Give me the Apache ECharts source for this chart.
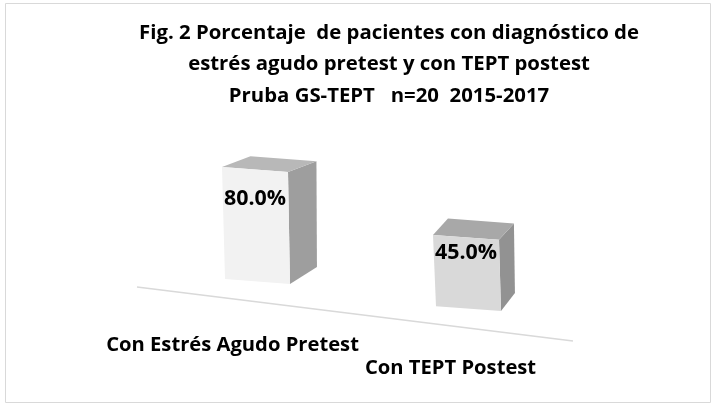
<!DOCTYPE html>
<html lang="es">
<head>
    <meta charset="UTF-8">
    <title>Fig. 2</title>
    <script src="https://cdn.jsdelivr.net/npm/echarts@6.0.0/dist/echarts.min.js"></script>
    <style>
        body { margin: 0; background: #fff; }
        #main { width: 716px; height: 408px; }
    </style>
</head>
<body>
    <div id="main"></div>
    <script type="text/javascript">
        // data
        const categories = ['Con Estrés Agudo Pretest', 'Con TEPT Postest'];
        const values = [80.0, 45.0];
        const labels = ['80.0%', '45.0%'];
        const titleLines = [
            'Fig. 2 Porcentaje  de pacientes con diagnóstico de',
            'estrés agudo pretest y con TEPT postest',
            'Pruba GS-TEPT   n=20  2015-2017'
        ];

        const frontColors = ['#f2f2f2', '#d9d9d9'];
        const topColors = ['#b8b8b8', '#a8a8a8'];
        const sideColors = ['#9e9e9e', '#929292'];
        const font = '"Open Sans", "Noto Sans", sans-serif';

        // pick a font size so a text has about the width of the original
        let ctx = document.createElement('canvas').getContext('2d');
        function fitSize(text, width) {
            ctx.font = 'bold 20px ' + font;
            return 20 * width / ctx.measureText(text).width;
        }
        const titleSize = fitSize(titleLines[1], 402);
        const catSize = fitSize(categories[0], 253);
        const valSize = fitSize(labels[0], 62);

        let myChart = echarts.init(document.getElementById('main'));

        // fake 3d box: front face from the axis scale, top and side pushed back
        function renderBox(params, api) {
            let i = api.value(0);
            let v = api.value(1);
            let pTop = api.coord([i, v]);
            let pBase = api.coord([i, -16]);
            let pLab = api.coord([i, v * 0.66]);
            let cx = pTop[0];
            let w = 66;
            let t = (cx - 254) / 211;
            let shift = 0.128 * (cx - 359.5);   // floor tilts down to the right
            let sk = 0.075;                      // face tilt
            let xl = cx - w / 2, xr = cx + w / 2;
            let ftl = [xl, pTop[1] + shift];
            let ftr = [xr, pTop[1] + shift + sk * w];
            let fbl = [xl + 3, pBase[1] + shift];
            let fbr = [xr + 2, pBase[1] + shift + sk * w];
            let dxT = 28.5 - 13.5 * t, dyT = -10.7 - 5.6 * t;
            let dxB = 27 - 13 * t, dyB = -17 - 1 * t;
            let btl = [ftl[0] + dxT, ftl[1] + dyT];
            let btr = [ftr[0] + dxT, ftr[1] + dyT];
            let bbr = [fbr[0] + dxB, fbr[1] + dyB];
            return {
                type: 'group',
                children: [
                    {
                        type: 'polygon',
                        shape: { points: [ftr, btr, bbr, fbr] },
                        style: { fill: sideColors[i] }
                    },
                    {
                        type: 'polygon',
                        shape: { points: [ftl, btl, btr, ftr] },
                        style: { fill: topColors[i] }
                    },
                    {
                        type: 'polygon',
                        shape: { points: [ftl, ftr, fbr, fbl] },
                        style: { fill: frontColors[i] }
                    },
                    {
                        type: 'text',
                        style: {
                            text: labels[i], x: cx, y: pLab[1] + shift,
                            align: 'center', verticalAlign: 'middle',
                            font: 'bold ' + valSize.toFixed(1) + 'px ' + font, fill: '#000'
                        }
                    },
                    {
                        type: 'text',
                        style: {
                            text: categories[i], x: cx - 22.5 + 7 * t, y: pBase[1] + 0.85 * shift + 64,
                            align: 'center', verticalAlign: 'middle',
                            font: 'bold ' + catSize.toFixed(1) + 'px ' + font, fill: '#000'
                        }
                    }
                ]
            };
        }

        let options = {
            animation: false,
            title: {
                text: titleLines.join('\n'),
                left: 384,
                top: 12,
                textAlign: 'center',
                textStyle: {
                    fontFamily: font,
                    fontWeight: 'bold',
                    fontSize: titleSize,
                    lineHeight: 31.5,
                    color: '#000',
                    align: 'center'
                }
            },
            graphic: [
                {
                    type: 'rect',
                    shape: { x: 5.5, y: 3.5, width: 705, height: 399 },
                    style: { fill: 'none', stroke: '#d9d9d9', lineWidth: 1 }
                },
                {
                    type: 'line',
                    shape: { x1: 137, y1: 287, x2: 573, y2: 341 },
                    style: { stroke: '#d9d9d9', lineWidth: 1.5 }
                }
            ],
            grid: { left: 149.5, right: 144.5, top: 157, bottom: 115.5 },
            xAxis: {
                type: 'category',
                data: categories,
                show: false
            },
            yAxis: {
                type: 'value',
                min: -16,
                max: 100,
                show: false
            },
            series: [{
                type: 'custom',
                renderItem: renderBox,
                data: values.map((v, i) => [i, v])
            }]
        };

        myChart.setOption(options);
    </script>
</body>
</html>
